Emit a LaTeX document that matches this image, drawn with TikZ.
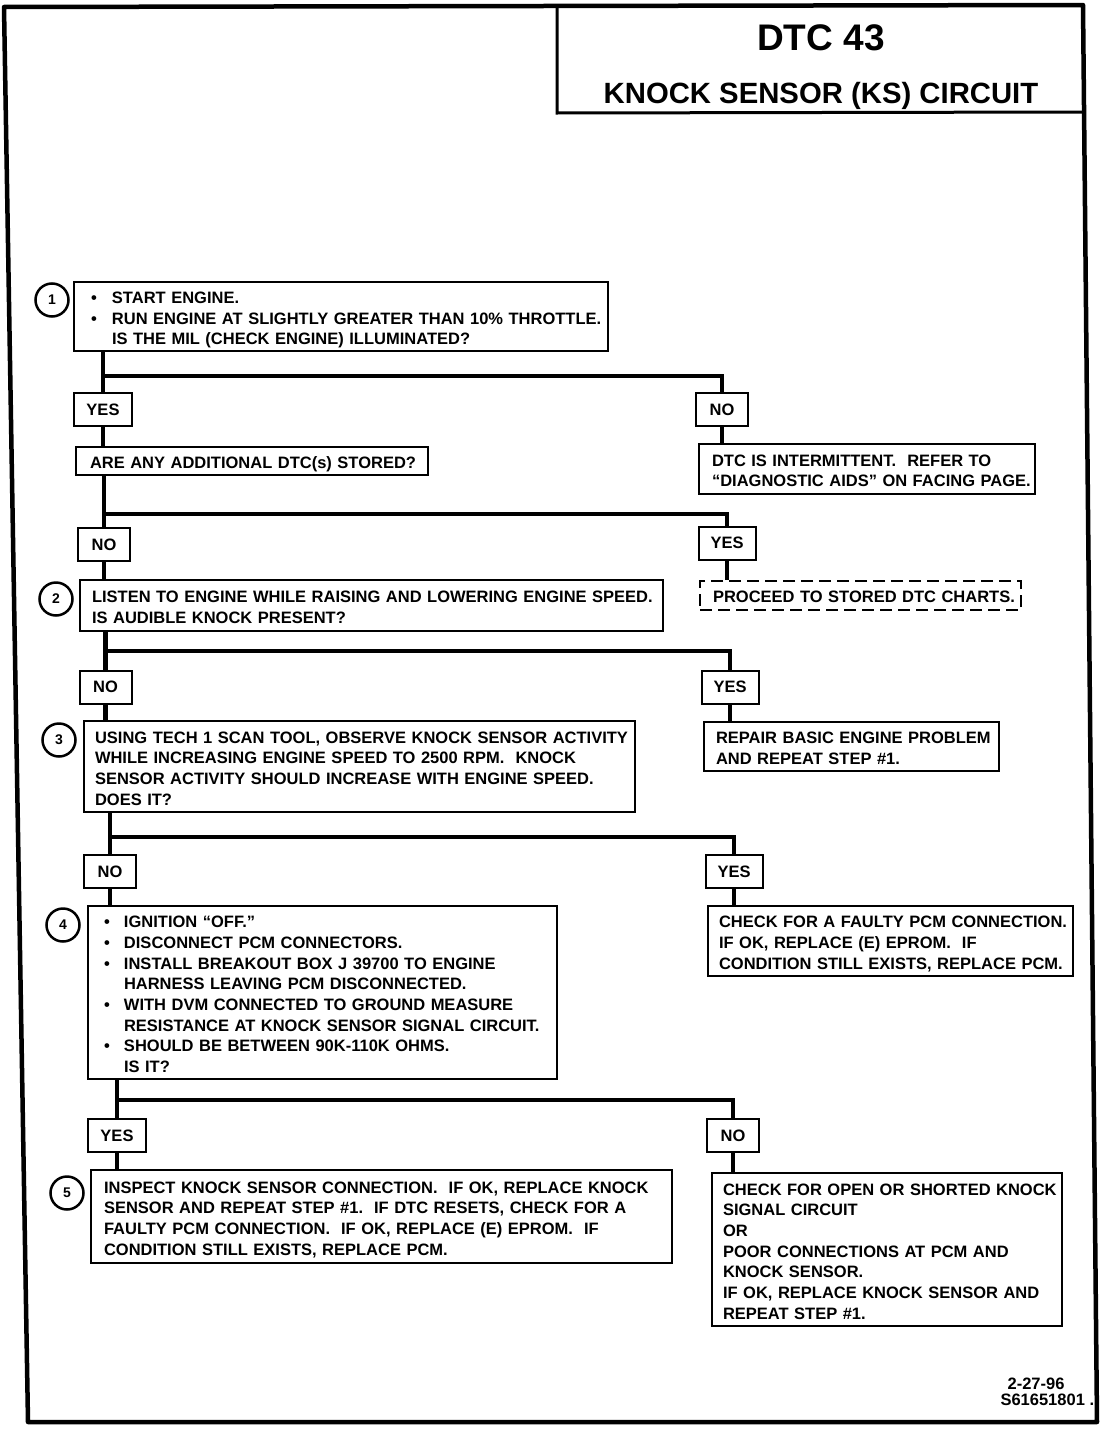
\documentclass[tikz,border=0pt]{standalone}
\usepackage{fontspec}
\setmainfont{Liberation Sans}
\usetikzlibrary{positioning}
\frenchspacing

\newcommand{\bul}{\makebox[21pt][l]{\textbullet}}
\newcommand{\nobul}{\hspace*{21pt}}
\newcommand{\boxlines}[1]{\noindent\begin{tabular}{@{}l@{}}#1\end{tabular}\vspace*{-7pt}}

\tikzset{
  txt/.style={font=\fontsize{16.5}{20.7}\selectfont\bfseries},
  stepbox/.style={draw, line width=2pt, anchor=north west, align=left, inner ysep=0pt, txt},
  answer/.style={draw, line width=2pt, minimum width=52pt, minimum height=33pt, inner xsep=12pt, inner ysep=0pt, txt},
  stepnum/.style={draw, circle, line width=2.5pt, minimum size=33pt, inner sep=0pt, font=\fontsize{14}{14}\selectfont\bfseries},
  trunk/.style={line width=4.5pt},
  frame/.style={line width=4.5pt, line join=round},
}

\begin{document}
\begin{tikzpicture}[x=1pt, y=-1pt]
  \useasboundingbox (0,0) rectangle (1104,1440);
  % page frame and title block
  \draw[frame] (4,7) -- (1083,5) -- (1097,1422) -- (28,1422) -- cycle;
  \draw[line width=3pt] (557,6) -- (557,113) -- (1085,112);
  \node[font=\fontsize{37}{37}\selectfont\bfseries, anchor=base] (dtc) at (821,50) {DTC 43};
  \node[font=\fontsize{29.3}{29.3}\selectfont\bfseries, anchor=base] (circuit) at (821,103) {KNOCK SENSOR (KS) CIRCUIT};

  % step boxes
  \node[stepbox, minimum height=69pt, inner xsep=17pt, text width=500pt] (s1) at (73,281) {\boxlines{%
    \bul START ENGINE.\\
    \bul RUN ENGINE AT SLIGHTLY GREATER THAN 10\% THROTTLE.\\
    \nobul IS THE MIL (CHECK ENGINE) ILLUMINATED?}};
  \node[stepbox, minimum height=28pt, inner xsep=14pt, text width=324pt] (q1) at (75,446) {\boxlines{ARE ANY ADDITIONAL DTC(s) STORED?}};
  \node[stepbox, minimum height=51pt, inner xsep=12pt, text width=559pt] (s2) at (79,579) {\boxlines{%
    LISTEN TO ENGINE WHILE RAISING AND LOWERING ENGINE SPEED.\\
    IS AUDIBLE KNOCK PRESENT?}};
  \node[stepbox, minimum height=91pt, inner xsep=11pt, text width=529pt] (s3) at (83,720) {\boxlines{%
    USING TECH 1 SCAN TOOL, OBSERVE KNOCK SENSOR ACTIVITY\\
    WHILE INCREASING ENGINE SPEED TO 2500 RPM.~ KNOCK\\
    SENSOR ACTIVITY SHOULD INCREASE WITH ENGINE SPEED.\\
    DOES IT?}};
  \node[stepbox, minimum height=173pt, inner xsep=16pt, text width=437pt] (s4) at (87,905) {\boxlines{%
    \makebox[20pt][l]{\textbullet}IGNITION “OFF.”\\
    \makebox[20pt][l]{\textbullet}DISCONNECT PCM CONNECTORS.\\
    \makebox[20pt][l]{\textbullet}INSTALL BREAKOUT BOX J 39700 TO ENGINE\\
    \hspace*{20pt}HARNESS LEAVING PCM DISCONNECTED.\\
    \makebox[20pt][l]{\textbullet}WITH DVM CONNECTED TO GROUND MEASURE\\
    \hspace*{20pt}RESISTANCE AT KNOCK SENSOR SIGNAL CIRCUIT.\\
    \makebox[20pt][l]{\textbullet}SHOULD BE BETWEEN 90K-110K OHMS.\\
    \hspace*{20pt}IS IT?}};
  \node[stepbox, minimum height=93pt, inner xsep=13pt, text width=555pt] (s5) at (90,1169) {\boxlines{%
    INSPECT KNOCK SENSOR CONNECTION.~ IF OK, REPLACE KNOCK\\
    SENSOR AND REPEAT STEP \#1.~ IF DTC RESETS, CHECK FOR A\\
    FAULTY PCM CONNECTION.~ IF OK, REPLACE (E) EPROM.~ IF\\
    CONDITION STILL EXISTS, REPLACE PCM.}};

  % result boxes
  \node[stepbox, minimum height=50pt, inner xsep=13pt, text width=310pt] (r1) at (698,443) {\boxlines{%
    DTC IS INTERMITTENT.~ REFER TO\\
    “DIAGNOSTIC AIDS” ON FACING PAGE.}};
  \node[stepbox, dashed, dash pattern=on 12pt off 6pt, minimum height=29pt, inner xsep=13pt, text width=295pt] (d1) at (699,580) {\boxlines{PROCEED TO STORED DTC CHARTS.}};
  \node[stepbox, minimum height=49pt, inner xsep=12pt, text width=271pt] (r2) at (703,721) {\boxlines{%
    REPAIR BASIC ENGINE PROBLEM\\
    AND REPEAT STEP \#1.}};
  \node[stepbox, minimum height=70pt, inner xsep=11pt, text width=343pt] (r3) at (707,905) {\boxlines{%
    CHECK FOR A FAULTY PCM CONNECTION.\\
    IF OK, REPLACE (E) EPROM.~ IF\\
    CONDITION STILL EXISTS, REPLACE PCM.}};
  \node[stepbox, minimum height=153pt, inner xsep=11pt, text width=328pt] (r4) at (711,1172) {\boxlines{%
    CHECK FOR OPEN OR SHORTED KNOCK\\
    SIGNAL CIRCUIT\\
    OR\\
    POOR CONNECTIONS AT PCM AND\\
    KNOCK SENSOR.\\
    IF OK, REPLACE KNOCK SENSOR AND\\
    REPEAT STEP \#1.}};

  % step numbers
  \node[stepnum] (c1) at (52,300) {1};
  \node[stepnum] (c2) at (56,599) {2};
  \node[stepnum] (c3) at (59,740) {3};
  \node[stepnum] (c4) at (63,925) {4};
  \node[stepnum] (c5) at (67,1193) {5};

  % yes / no answers
  \node[answer] (yes1) at (103,409.5) {YES};
  \node[answer] (no1) at (722,409.5) {NO};
  \node[answer] (no2) at (104,544.5) {NO};
  \node[answer] (yes2) at (727,543) {YES};
  \node[answer] (no3) at (105.5,687) {NO};
  \node[answer] (yes3) at (730,687) {YES};
  \node[answer] (no4) at (110,871.5) {NO};
  \node[answer] (yes4) at (734,871.5) {YES};
  \node[answer] (yes5) at (117,1135.5) {YES};
  \node[answer] (no5) at (733,1135.5) {NO};

  % branch points
  \coordinate (j1) at (yes1.north |- 0,376);
  \coordinate (j2) at (no2.north |- 0,514);
  \coordinate (j3) at (no3.north |- 0,651);
  \coordinate (j4) at (no4.north |- 0,837);
  \coordinate (j5) at (yes5.north |- 0,1100);

  % flow lines
  \draw[trunk] (s1.south -| yes1) -- (yes1.north);
  \draw[trunk] (yes1.south) -- (q1.north -| yes1);
  \draw[trunk] (j1) -| (no1.north);
  \draw[trunk] (no1.south) -- (r1.north -| no1);

  \draw[trunk] (q1.south -| no2) -- (no2.north);
  \draw[trunk] (no2.south) -- (s2.north -| no2);
  \draw[trunk] (j2) -| (yes2.north);
  \draw[trunk] (yes2.south) -- (d1.north -| yes2);

  \draw[trunk] (s2.south -| no3) -- (no3.north);
  \draw[trunk] (no3.south) -- (s3.north -| no3);
  \draw[trunk] (j3) -| (yes3.north);
  \draw[trunk] (yes3.south) -- (r2.north -| yes3);

  \draw[trunk] (s3.south -| no4) -- (no4.north);
  \draw[trunk] (no4.south) -- (s4.north -| no4);
  \draw[trunk] (j4) -| (yes4.north);
  \draw[trunk] (yes4.south) -- (r3.north -| yes4);

  \draw[trunk] (s4.south -| yes5) -- (yes5.north);
  \draw[trunk] (yes5.south) -- (s5.north -| yes5);
  \draw[trunk] (j5) -| (no5.north);
  \draw[trunk] (no5.south) -- (r4.north -| no5);

  % drawing number
  \node[txt, anchor=base east] (date) at (1068,1389) {2-27-96};
  \node[txt, anchor=base west] (dwg) at (997,1405) {S61651801 .};
\end{tikzpicture}
\end{document}
